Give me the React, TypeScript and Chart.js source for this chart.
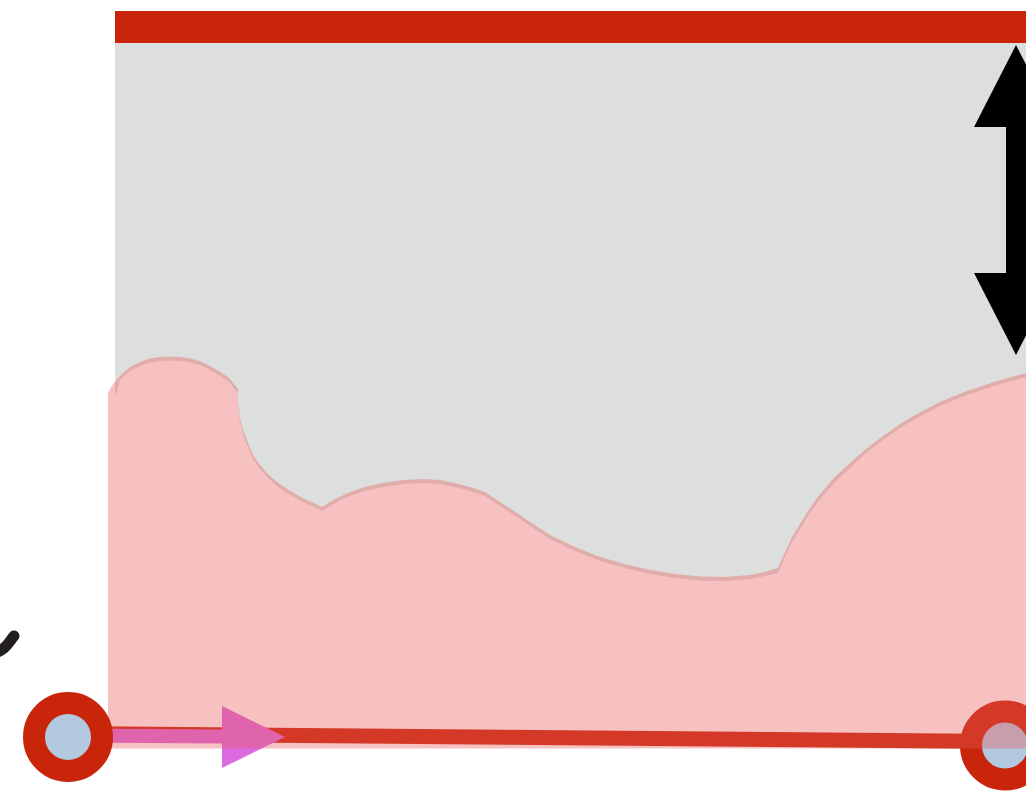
import React, { useEffect, useRef } from "react";
import { Chart, registerables } from "chart.js";

Chart.register(...registerables);

// Scale domain: x 0..1026, y 0..797 (top to bottom)
const X_MAX = 1026;
const Y_MAX = 797;

// Top red band
const topBarX = [115, 1030];
const topBarY = [11, 11];
const topBarBase = 43;

// Pink wave (upper edge)
const waveX = [108, 113, 120, 130, 140, 150, 160, 170, 180, 190, 200, 210, 220, 228, 233, 238, 238, 240, 243, 248, 253, 260, 267, 277, 287, 297, 307, 315, 322, 335, 350, 365, 383, 403, 423, 440, 455, 470, 485, 500, 517, 533, 550, 575, 600, 625, 650, 675, 700, 725, 750, 765, 778, 785, 792, 800, 808, 817, 833, 850, 866, 883, 900, 917, 942, 967, 997, 1030];
const waveY = [393, 384, 376, 367, 362, 358.5, 357, 356.5, 357, 358.5, 361, 366, 372, 377, 383, 389, 403, 418, 430, 443, 455, 465, 473, 482, 489, 495, 500, 503.5, 507, 499, 492, 487, 483, 480, 479, 480, 483, 487, 492, 502, 513, 524, 535, 547, 557, 564, 570, 574, 576.5, 577, 575, 572, 568, 552, 537, 524, 511, 498, 479, 463, 449, 436, 424, 414, 401, 391, 381, 372];
const waveBase = 748.5;

// Grey panel lower edge (slightly below the wave edge)
const panelEdgeX = [115, 120, 130, 140, 150, 160, 170, 180, 190, 200, 210, 220, 228, 233, 238, 238, 240, 243, 248, 253, 260, 267, 277, 287, 297, 307, 315, 322, 335, 350, 365, 383, 403, 423, 440, 455, 470, 485, 500, 517, 533, 550, 575, 600, 625, 650, 675, 700, 725, 750, 765, 778, 785, 792, 800, 808, 817, 833, 850, 866, 883, 900, 917, 942, 967, 997, 1030];
const panelEdgeY = [398, 380, 371, 366, 362.5, 361, 360.5, 361, 362.5, 365, 370, 376, 381, 387, 393, 407, 422, 434, 447, 459, 469, 477, 486, 493, 499, 504, 507.5, 511, 503, 496, 491, 487, 484, 483, 484, 487, 491, 496, 506, 517, 528, 539, 551, 561, 568, 574, 578, 580.5, 581, 579, 576, 573, 557, 542, 529, 516, 503, 484, 468, 453, 440, 428, 418, 405, 395, 385, 376];
const panelTop = 11;

// Black double-headed arrow outline
const arrowX = [1016, 974, 1006, 1006, 974, 1016, 1058, 1026, 1026, 1058, 1016];
const arrowY = [45, 127, 127, 273, 273, 355, 273, 273, 127, 127, 45];

// Red rail between wheels
const railX = [68, 1005];
const railY = [733.5, 741.5];

// Magenta arrow
const shaftX = [68, 224];
const shaftY = [735.5, 736.5];
const headX = [222, 222, 285, 222];
const headY = [706, 768, 737, 706];

// Wheels
const wheelLeftX = [68];
const wheelLeftY = [737];
const wheelRightX = [1005];
const wheelRightY = [745.5];

// Black brush stroke at the left edge
const strokeX = [-10, 4, 14];
const strokeY = [656, 648, 636];

const pts = (xs: number[], ys: number[]) => xs.map((x, i) => ({ x, y: ys[i] }));

const NONE = "rgba(0,0,0,0)";

export default function App() {
  const ref = useRef<HTMLCanvasElement>(null);

  useEffect(() => {
    if (!ref.current) return;
    const base = { pointRadius: 0, tension: 0, pointHoverRadius: 0 };
    const chart = new Chart(ref.current, {
      type: "line",
      data: {
        datasets: [
          {
            ...base,
            label: "panel",
            data: pts(panelEdgeX, panelEdgeY),
            borderColor: NONE,
            borderWidth: 0,
            backgroundColor: "#dddfde",
            fill: { value: panelTop },
            order: 10,
          },
          {
            ...base,
            label: "topbar",
            data: pts(topBarX, topBarY),
            borderColor: NONE,
            borderWidth: 0,
            backgroundColor: "#c8250a",
            fill: { value: topBarBase },
            order: 9,
          },
          {
            ...base,
            label: "arrow",
            data: pts(arrowX, arrowY),
            borderColor: NONE,
            borderWidth: 0,
            backgroundColor: "#000000",
            fill: "shape",
            order: 8,
          },
          {
            ...base,
            label: "rail",
            data: pts(railX, railY),
            borderColor: "#c8250a",
            borderWidth: 15,
            fill: false,
            order: 7,
          },
          {
            ...base,
            label: "shaft",
            data: pts(shaftX, shaftY),
            borderColor: "#dc6ae0",
            borderWidth: 14,
            fill: false,
            order: 6,
          },
          {
            ...base,
            label: "head",
            data: pts(headX, headY),
            borderColor: NONE,
            borderWidth: 0,
            backgroundColor: "#dc6ae0",
            fill: "shape",
            order: 5,
          },
          {
            label: "wheelRight",
            data: pts(wheelRightX, wheelRightY),
            showLine: false,
            pointRadius: 34,
            pointHoverRadius: 34,
            pointBorderWidth: 22,
            pointBackgroundColor: "#b3c9df",
            pointBorderColor: "#c8250a",
            order: 4,
          },
          {
            ...base,
            label: "wave",
            data: pts(waveX, waveY),
            borderColor: NONE,
            borderWidth: 0,
            backgroundColor: "rgba(232,92,89,0.38)",
            fill: { value: waveBase },
            order: 3,
          },
          {
            label: "wheelLeft",
            data: pts(wheelLeftX, wheelLeftY),
            showLine: false,
            pointRadius: 34,
            pointHoverRadius: 34,
            pointBorderWidth: 22,
            pointBackgroundColor: "#b3c9df",
            pointBorderColor: "#c8250a",
            order: 2,
          },
          {
            ...base,
            label: "stroke",
            data: pts(strokeX, strokeY),
            borderColor: "#231f20",
            borderWidth: 11,
            borderCapStyle: "round",
            tension: 0.4,
            fill: false,
            order: 1,
          },
        ] as any,
      },
      options: {
        animation: false,
        responsive: false,
        devicePixelRatio: 1,
        events: [],
        layout: { padding: 0, autoPadding: false },
        plugins: {
          legend: { display: false },
          tooltip: { enabled: false },
        },
        scales: {
          x: { type: "linear", min: 0, max: X_MAX, display: false },
          y: { type: "linear", min: 0, max: Y_MAX, reverse: true, display: false },
        },
      } as any,
    });
    return () => chart.destroy();
  }, []);

  return (
    <div style={{ position: "absolute", left: 0, top: 0, width: 1026, height: 797, background: "#ffffff" }}>
      <canvas ref={ref} width={1026} height={797} style={{ display: "block" }} />
    </div>
  );
}
